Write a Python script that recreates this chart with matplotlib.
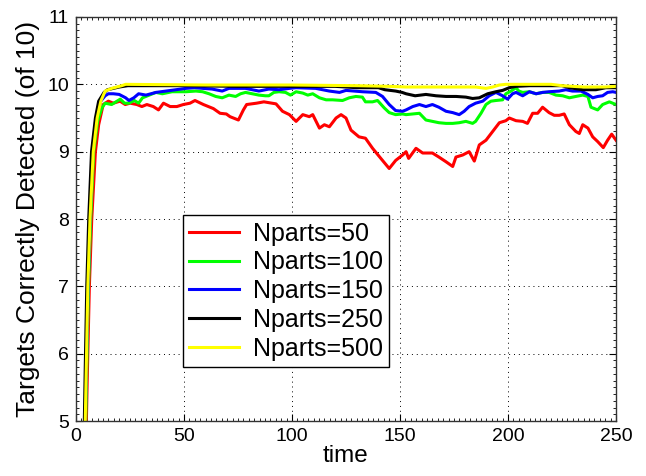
import matplotlib
matplotlib.use("Agg")
import matplotlib.pyplot as plt
from matplotlib.ticker import MultipleLocator

plt.rcParams['font.family'] = ['Liberation Sans', 'DejaVu Sans']

labels = ["Nparts=50", "Nparts=100", "Nparts=150", "Nparts=250", "Nparts=500"]
colors = ["#ff0000", "#00ff00", "#0000ff", "#000000", "#ffff00"]

t_50 = [4.5, 5.2, 6.2, 7.3, 9.0, 10.5, 12.6, 15, 17.3, 20.4, 22.8, 25.1, 28.2, 30.5, 32.8, 35.8, 38.2, 40.5,
        43.6, 46.7, 49.7, 52.8, 55.1, 59, 63.6, 66.7, 69.6, 71.3, 75.2, 77.5, 79, 83.6, 87, 92.6, 95.6, 98.8,
        101.9, 105, 108, 109.6, 112.7, 115, 117.3, 120.4, 122.7, 125, 127.3, 131, 134, 137.3, 141.9, 145,
        148, 151.2, 152.8, 154, 157.4, 160.5, 165, 168, 171.3, 174.4, 175.9, 179, 182, 184.4, 186.7, 189.8,
        192.9, 196, 199, 200.6, 203.7, 206.8, 209, 211.4, 213.7, 216, 219, 221.4, 223.7, 226, 228.4, 231.4,
        233, 234.6, 237, 239.2, 241.5, 244.1, 246.1, 248, 250]
y_50 = [4.5, 5.6, 7.0, 8.0, 9.0, 9.4, 9.7, 9.75, 9.72, 9.75, 9.7, 9.72, 9.7, 9.67, 9.7, 9.67, 9.62, 9.72,
        9.67, 9.67, 9.7, 9.72, 9.76, 9.7, 9.64, 9.57, 9.56, 9.52, 9.47, 9.62, 9.70, 9.72, 9.74, 9.71, 9.6, 9.55,
        9.45, 9.55, 9.52, 9.55, 9.35, 9.4, 9.37, 9.5, 9.55, 9.5, 9.32, 9.22, 9.2, 9.05, 8.87, 8.75,
        8.87, 8.95, 9.0, 8.9, 9.05, 8.98, 8.98, 8.92, 8.85, 8.78, 8.92, 8.95, 9.0, 8.86, 9.1, 9.17,
        9.3, 9.43, 9.46, 9.5, 9.46, 9.45, 9.42, 9.57, 9.57, 9.66, 9.58, 9.54, 9.54, 9.56, 9.4, 9.3,
        9.27, 9.4, 9.35, 9.22, 9.15, 9.06, 9.17, 9.26, 9.17]

t_100 = [4.2, 5.0, 5.8, 6.8, 8.2, 10, 12, 13.5, 16.5, 18.5, 20.5, 22.5, 24.5, 27, 29, 30.8, 32.4, 37, 40,
         44.5, 50.9, 55.5, 58.6, 61.6, 64.7, 67.7, 70.8, 73.9, 76.2, 78.5, 81.6, 84.7, 87.7, 89.3, 91.6, 94,
         97, 99.3, 101.9, 105, 107.3, 109.6, 112.7, 115.8, 118.8, 123.4, 126.5, 129.6, 132.6, 134, 137.3,
         139.6, 142.7, 145, 148, 151.2, 152.8, 155.9, 159, 162, 165, 168, 171.3, 174.4, 177.4, 180.5, 183.6,
         185, 187.5, 189.8, 192.1, 194.4, 197.5, 199, 201.4, 203.7, 205, 206.8, 209.9, 213, 216, 219, 222.2,
         225.3, 228.4, 231.4, 234.6, 237, 238.4, 241.5, 243.8, 246.9, 250]
y_100 = [4.5, 5.8, 7.0, 8.0, 9.0, 9.45, 9.65, 9.72, 9.7, 9.74, 9.78, 9.72, 9.72, 9.76, 9.72, 9.8, 9.82, 9.88, 9.86,
         9.89, 9.89, 9.9, 9.89, 9.86, 9.82, 9.8, 9.84, 9.82, 9.86, 9.88, 9.86, 9.84, 9.83, 9.83, 9.88, 9.89,
         9.88, 9.84, 9.89, 9.87, 9.84, 9.86, 9.8, 9.77, 9.77, 9.76, 9.8, 9.82, 9.81, 9.74, 9.74,
         9.76, 9.65, 9.58, 9.55, 9.56, 9.55, 9.56, 9.57, 9.47, 9.45, 9.43, 9.42, 9.42, 9.43, 9.45, 9.42,
         9.45, 9.57, 9.7, 9.75, 9.76, 9.77, 9.86, 9.9, 9.95, 9.9, 9.88, 9.89, 9.86, 9.88, 9.88, 9.84,
         9.83, 9.8, 9.82, 9.84, 9.82, 9.66, 9.62, 9.7, 9.74, 9.7]

t_150 = [4.0, 4.8, 5.6, 6.5, 7.8, 9.5, 11.5, 13.5, 15, 17.3, 20, 23, 24.5, 26.8, 29, 32.4, 37, 41.7, 46.3,
         50.9, 55, 58.6, 63, 67.7, 70.8, 78.5, 84.7, 89.3, 94, 98.8, 101.9, 111, 117.3, 122, 125, 132.6,
         138.8, 141.9, 145, 148, 151.2, 152.8, 155.9, 159, 162, 165, 168, 171.3, 174.4, 177.4, 179.7, 182,
         185, 188.3, 191.3, 194.4, 197.5, 199.8, 202.1, 203.7, 206.8, 209.9, 213, 216, 219, 223.7, 226.8,
         229.8, 233.8, 237, 239.2, 241.5, 243.8, 246.1, 248.5, 250]
y_150 = [4.5, 5.8, 7.0, 8.0, 9.0, 9.5, 9.75, 9.83, 9.86, 9.86, 9.85, 9.8, 9.76, 9.8, 9.86, 9.84, 9.88, 9.9, 9.92,
         9.94, 9.95, 9.94, 9.93, 9.9, 9.94, 9.94, 9.9, 9.93, 9.92, 9.94, 9.95, 9.94, 9.9, 9.88, 9.91, 9.89,
         9.88, 9.82, 9.70, 9.61, 9.6, 9.62, 9.67, 9.70, 9.67, 9.70, 9.66, 9.6, 9.58, 9.55, 9.6, 9.67,
         9.72, 9.75, 9.83, 9.88, 9.83, 9.78, 9.86, 9.88, 9.83, 9.89, 9.86, 9.88, 9.89, 9.9, 9.92,
         9.9, 9.9, 9.85, 9.8, 9.82, 9.83, 9.88, 9.89, 9.88]

t_250 = [3.6, 4.3, 5.0, 5.9, 7.2, 9, 10.5, 13, 14.6, 20, 24, 50, 75, 100, 120, 125, 130, 140, 143, 148, 151,
         152.8, 157, 162, 166.7, 171.3, 176, 180.5, 183.6, 186.7, 190.6, 194.4, 197.5, 200.6, 203.7, 210,
         225, 228.4, 234.6, 240.7, 245.3, 250]
y_250 = [4.5, 5.8, 7.0, 8.0, 9.0, 9.5, 9.75, 9.88, 9.92, 9.96, 9.98, 9.98, 9.97, 9.97, 9.97, 9.96, 9.95, 9.95,
         9.92, 9.9, 9.88, 9.86, 9.83, 9.85, 9.83, 9.82, 9.82, 9.81, 9.79, 9.8, 9.86, 9.89, 9.91, 9.95, 9.97,
         9.98, 9.98, 9.95, 9.92, 9.92, 9.95, 9.95]

t_500 = [4.0, 4.9, 5.5, 6.5, 8.0, 9.8, 11.5, 13.5, 16.5, 21.2, 23, 60, 100, 130, 145, 152.8, 185, 189.8, 192.9,
         196, 199, 220, 225, 235, 245, 250]
y_500 = [4.5, 6.0, 7.0, 8.0, 9.0, 9.5, 9.75, 9.9, 9.94, 9.98, 10.0, 9.99, 9.99, 9.98, 9.97, 9.96, 9.96, 9.94,
         9.96, 9.99, 10.0, 10.0, 9.98, 9.96, 9.96, 9.97]

series_t = [t_50, t_100, t_150, t_250, t_500]
series_y = [y_50, y_100, y_150, y_250, y_500]

xticks = [0, 50, 100, 150, 200, 250]
yticks = [5, 6, 7, 8, 9, 10, 11]

fig = plt.figure(figsize=(6.46, 4.76), dpi=100)
ax = fig.add_axes([0.1176, 0.1155, 0.836, 0.8488])

for t, y, c, lab in zip(series_t, series_y, colors, labels):
    ax.plot(t, y, color=c, lw=2.2, label=lab)

ax.set_xlim(0, 250)
ax.set_ylim(5, 11)
ax.set_xticks(xticks)
ax.set_yticks(yticks)
ax.xaxis.set_minor_locator(MultipleLocator(2.5))
ax.yaxis.set_minor_locator(MultipleLocator(0.1))
ax.tick_params(which='both', direction='in', top=True, right=True, labelsize=14, colors='black')
ax.tick_params(which='major', length=5, width=0.8, pad=5)
ax.tick_params(which='minor', length=2.5, width=0.6)
ax.grid(True, which='major', color='black', linestyle=(0, (1, 4)), linewidth=0.7)
for s in ax.spines.values():
    s.set_linewidth(1.0)
    s.set_color('#333333')

ax.set_xlabel('time', fontsize=17.5, labelpad=0)
ax.set_ylabel('Targets Correctly Detected (of 10)', fontsize=19, labelpad=5)

leg = ax.legend(loc='lower left', bbox_to_anchor=(0.1976, 0.134), fontsize=18, frameon=True,
                fancybox=False, edgecolor='black', framealpha=1, borderaxespad=0,
                handlelength=2.0, handletextpad=0.55, labelspacing=0.19, borderpad=0.25)
leg.get_frame().set_linewidth(1.0)

fig.savefig('out.png', dpi=100)
